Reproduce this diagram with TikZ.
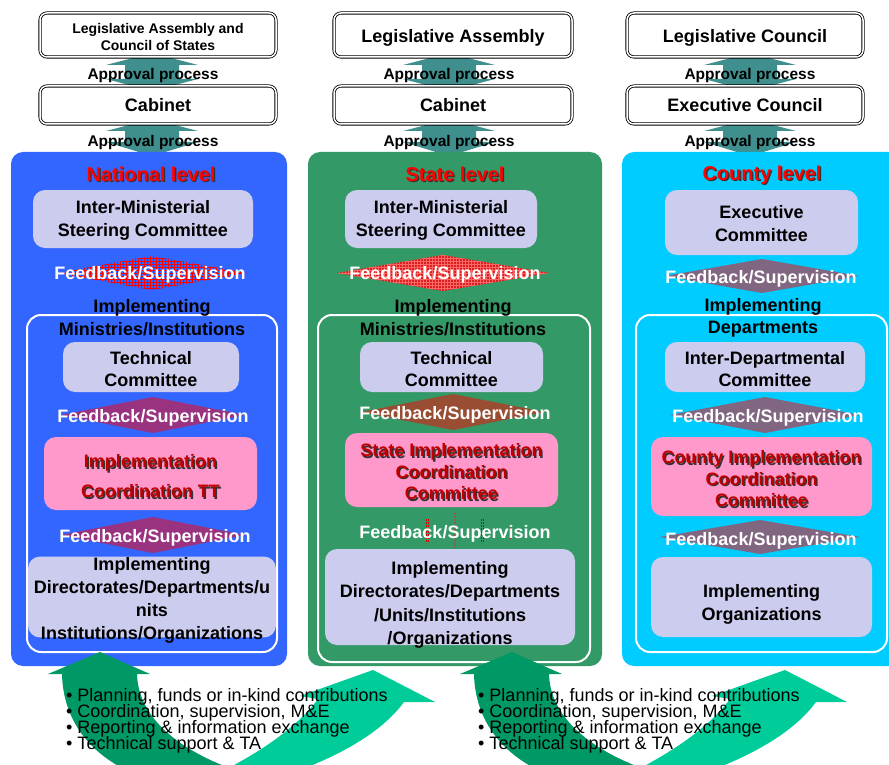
\documentclass[tikz,border=0pt]{standalone}
\usepackage{fontspec}
\setmainfont{Liberation Sans}
\usetikzlibrary{patterns}
\definecolor{pblue}{HTML}{3366FF}
\definecolor{pgreen}{HTML}{339966}
\definecolor{pcyan}{HTML}{00CCFF}
\definecolor{lav}{HTML}{CCCCEE}
\definecolor{pinkb}{HTML}{FF99CC}
\definecolor{apteal}{HTML}{408F8F}
\definecolor{fbpurple}{HTML}{993380}
\definecolor{fbbrown}{HTML}{994D33}
\definecolor{fbgray}{HTML}{806680}
\definecolor{dkgreen}{HTML}{009966}
\definecolor{ltgreen}{HTML}{00CC99}
\definecolor{dred}{HTML}{C00000}
\definecolor{shgray}{HTML}{333333}
\definecolor{hatchred}{HTML}{D92020}
\newcommand\shd[3]{\leavevmode\rlap{\raisebox{-1.3pt}{\kern1.3pt\textcolor{#2}{#3}}}\textcolor{#1}{#3}}
\newcommand\tightlines{\lineskiplimit=-50pt\relax}
\newcommand\aparrow[5]{\fill[apteal] (#1,#2) -- ({#1+46},#3) -- ({#1+27},#3) -- ({#1+27},#4) -- ({#1+46},#4) -- (#1,#5) -- ({#1-46},#4) -- ({#1-27},#4) -- ({#1-27},#3) -- ({#1-46},#3) -- cycle;}
\newcommand\fbdia[5]{\fill[#1] ({#2-#4},#3) -- (#2,{#3-#5}) -- ({#2+#4},#3) -- (#2,{#3+#5}) -- cycle;}
\tikzset{
  tdown/.style={execute at begin node={\rule{0pt}{#1}}},
  topbox/.style={draw=black, line width=0.8pt, double=white, double distance=1.5pt, rounded corners=7pt, fill=white, minimum width=236pt, align=center, inner sep=0pt, font=\bfseries\fontsize{18}{20}\selectfont},
  lavbox/.style={fill=lav, rounded corners=12pt, align=center, inner sep=0pt, font=\bfseries\fontsize{18}{23}\selectfont},
  pinkbox/.style={fill=pinkb, rounded corners=12pt, align=center, inner sep=0pt, font=\bfseries\fontsize{18}{21.5}\selectfont},
  fbtext/.style={text=white, inner sep=0pt, tdown=17.1pt, font=\bfseries\fontsize{18}{20}\selectfont},
  aptext/.style={inner sep=0pt, tdown=15.3pt, font=\bfseries\fontsize{15.5}{18}\selectfont},
  leveltitle/.style={inner sep=0pt, tdown=16.6pt, font=\bfseries\fontsize{20}{22}\selectfont},
  plaintext/.style={inner sep=0pt, align=center, font=\bfseries\fontsize{18}{23}\selectfont},
  panel/.style={rounded corners=12pt},
  innerframe/.style={draw=white, line width=2pt, rounded corners=14pt},
  bullets/.style={inner sep=0pt, align=left, font=\fontsize{18}{16}\selectfont, execute at begin node={\tightlines}},
}
\begin{document}
\begin{tikzpicture}[x=1pt,y=-1pt]
\useasboundingbox (0,0) rectangle (889,765);
\clip (0,0) rectangle (889,765);

% approval arrows (behind boxes)
\aparrow{152}{53}{65}{79}{91}
\aparrow{152}{119}{131}{142}{156}
\aparrow{449}{53}{65}{79}{91}
\aparrow{449}{119}{131}{142}{156}
\aparrow{750}{53}{65}{79}{91}
\aparrow{750}{119}{131}{142}{156}

% top boxes
\node[topbox, minimum height=44pt, tdown=30.2pt, font=\bfseries\fontsize{14}{17}\selectfont] (leg1) at (158,35) {Legislative Assembly and\\Council of States};
\node[topbox, minimum height=38pt] (cab1) at (158,105) {Cabinet};
\node[topbox, minimum height=44pt, minimum width=238pt, tdown=19.1pt] (leg2) at (453,35) {Legislative Assembly};
\node[topbox, minimum height=38pt, minimum width=238pt] (cab2) at (453,105) {Cabinet};
\node[topbox, minimum height=44pt, tdown=19.1pt] (leg3) at (745,35) {Legislative Council};
\node[topbox, minimum height=38pt] (cab3) at (745,105) {Executive Council};

\node[aptext] (ap1a) at (153,73) {Approval process};
\node[aptext] (ap1b) at (153,140) {Approval process};
\node[aptext] (ap2a) at (449,73) {Approval process};
\node[aptext] (ap2b) at (449,140) {Approval process};
\node[aptext] (ap3a) at (750,73) {Approval process};
\node[aptext] (ap3b) at (750,140) {Approval process};

% panels
\fill[pblue, panel] (11,152) rectangle (287,666);
\fill[pgreen, panel] (308,152) rectangle (602,666);
\fill[pcyan, panel] (622,152) rectangle (905,666);

% inner frames
\draw[innerframe] (27,315) rectangle (277,652);
\draw[innerframe] (318,315) rectangle (590,662);
\draw[innerframe] (636,315) rectangle (887,652);

% feedback diamonds
\fbdia{pattern=grid, pattern color=red}{152}{273}{95}{17}
\fbdia{fbpurple}{153}{415}{92}{18}
\fbdia{fbpurple}{153}{535}{92}{18}
\fbdia{hatchred}{443}{273}{106}{18}
\fbdia{pattern=grid, pattern color=red!60!white}{443}{273}{106}{18}
\fbdia{fbbrown}{453}{412}{92}{18}
\fbdia{fbgray}{762}{276}{97}{17}
\fbdia{fbgray}{765}{415}{95}{18}
\fbdia{fbgray}{760}{537}{100}{17}
\draw[red!80!black, line width=0.5pt, dash pattern=on 2pt off 1pt] (426,519) -- (426,543) (428,519) -- (428,543) (481,519) -- (481,543) (483,519) -- (483,543) (510,525) -- (510,540);
\draw[fbbrown!70!gray, line width=2.5pt, dash pattern=on 2pt off 1pt] (455,513) -- (455,549);

% National level
\node[leveltitle] (nat) at (151,174) {\shd{red}{shgray}{National level}};
\node[lavbox, minimum width=220pt, minimum height=58pt, tdown=38.1pt] (ims1) at (143,219) {Inter-Ministerial\\Steering Committee};
\node[fbtext] (fb1a) at (150,273) {Feedback/Supervision};
\node[plaintext, tdown=39.1pt] (im1) at (152,316) {Implementing\\Ministries/Institutions};
\node[lavbox, minimum width=176pt, minimum height=50pt, tdown=39.1pt, font=\bfseries\fontsize{18}{22}\selectfont] (tc1) at (151,367) {Technical\\Committee};
\node[fbtext] (fb1b) at (153,416) {Feedback/Supervision};
\node[pinkbox, minimum width=213pt, minimum height=73pt, tdown=50.1pt, font=\bfseries\fontsize{18}{30}\selectfont] (ict1) at (150.5,473.5) {\shd{dred}{shgray}{Implementation}\\\shd{dred}{shgray}{Coordination TT}};
\node[fbtext] (fb1c) at (155,536) {Feedback/Supervision};
\node[lavbox, minimum width=248pt, inner ysep=-5.5pt, tdown=88.1pt] (idd1) at (152,597) {Implementing\\Directorates/Departments/u\\nits\\Institutions/Organizations};

% State level
\node[leveltitle] (sta) at (455,174) {\shd{red}{shgray}{State level}};
\node[lavbox, minimum width=192pt, minimum height=58pt, tdown=38.1pt] (ims2) at (441,219) {Inter-Ministerial\\Steering Committee};
\node[fbtext] (fb2a) at (445,273) {Feedback/Supervision};
\node[plaintext, tdown=39.1pt] (im2) at (453,316) {Implementing\\Ministries/Institutions};
\node[lavbox, minimum width=183pt, minimum height=50pt, tdown=39.1pt, font=\bfseries\fontsize{18}{22}\selectfont] (tc2) at (451.5,367) {Technical\\Committee};
\node[fbtext] (fb2b) at (455,413) {Feedback/Supervision};
\node[pinkbox, minimum width=213pt, minimum height=74pt, tdown=61.1pt] (sicc2) at (451.5,470) {\shd{dred}{shgray}{State Implementation}\\\shd{dred}{shgray}{Coordination}\\\shd{dred}{shgray}{Committee}};
\node[fbtext] (fb2c) at (455,532) {Feedback/Supervision};
\node[lavbox, minimum width=250pt, minimum height=96pt, inner ysep=-4pt, tdown=99pt, font=\bfseries\fontsize{18}{23.3}\selectfont] (idd2) at (450,597) {Implementing\\Directorates/Departments\\/Units/Institutions\\/Organizations};

% County level
\node[leveltitle] (cty) at (762,175) {\shd{red}{shgray}{County level}};
\node[lavbox, minimum width=193pt, minimum height=65pt, tdown=38.1pt] (ec3) at (761.5,222.5) {Executive\\Committee};
\node[fbtext] (fb3a) at (761,277) {Feedback/Supervision};
\node[plaintext, tdown=39.1pt, font=\bfseries\fontsize{18}{22}\selectfont] (im3) at (763,316) {Implementing\\Departments};
\node[lavbox, minimum width=200pt, minimum height=50pt, tdown=39.1pt, font=\bfseries\fontsize{18}{22}\selectfont] (idc3) at (765,367) {Inter-Departmental\\Committee};
\node[fbtext] (fb3b) at (768,416) {Feedback/Supervision};
\node[pinkbox, minimum width=221pt, minimum height=79pt, tdown=62.1pt] (cicc3) at (761.5,476.5) {\shd{dred}{shgray}{County Implementation}\\\shd{dred}{shgray}{Coordination}\\\shd{dred}{shgray}{Committee}};
\node[fbtext] (fb3c) at (761,539) {Feedback/Supervision};
\node[lavbox, minimum width=221pt, minimum height=80pt, tdown=50.1pt] (io3) at (761.5,597) {Implementing\\Organizations};

% bottom curved arrows
\foreach \dx in {0,412} {
  \begin{scope}[xshift=\dx]
    \fill[dkgreen] (100,652) -- (150,674) -- (137,674) .. controls (138,715) and (175,752) .. (250,775) -- (150,780) .. controls (90,760) and (63,720) .. (62,674) -- (48,674) -- cycle;
    \fill[ltgreen] (373,670) -- (435,702) -- (404,702) .. controls (380,735) and (330,762) .. (270,780) -- (215,775) .. controls (255,755) and (295,730) .. (318,699) -- (300,696) -- cycle;
  \end{scope}
}

\node[bullets, anchor=west] (bl1) at (66,721) {\textbullet\ Planning, funds or in-kind contributions\\\textbullet\ Coordination, supervision, M\&E\\\textbullet\ Reporting \& information exchange\\\textbullet\ Technical support \& TA};
\node[bullets, anchor=west] (bl2) at (478,721) {\textbullet\ Planning, funds or in-kind contributions\\\textbullet\ Coordination, supervision, M\&E\\\textbullet\ Reporting \& information exchange\\\textbullet\ Technical support \& TA};
\end{tikzpicture}
\end{document}
